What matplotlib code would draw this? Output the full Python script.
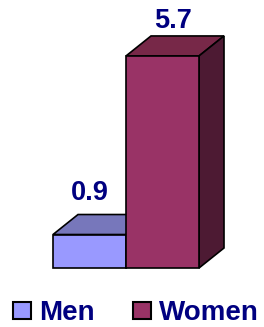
import matplotlib.pyplot as plt
from matplotlib.patches import Polygon, Rectangle

categories = ['Men', 'Women']
values = [0.9, 5.7]
labels = ['0.9', '5.7']

front = ['#9999FF', '#993366']
top = ['#7777BB', '#772848']
side = ['#5C5C99', '#4D1A33']
navy = '#000080'

# label placement tweaks (data units), to match the original layout
label_dx = [0.0, 0.145]
label_gap = [0.39, 0.21]

W, H = 264, 327
fig = plt.figure(figsize=(W / 100, H / 100), dpi=100)
ax = fig.add_axes([0, 0, 1, 1])
# 1 x unit = 73 px, 1 y unit = 37.2 px, baseline at y=268 px
ax.set_xlim(-53 / 73, (W - 53) / 73)
ax.set_ylim(-(H - 268) / 37.2, 268 / 37.2)
ax.axis('off')

dx, dy = 25 / 73, 20 / 37.2
for i, v in enumerate(values):
    x0, x1 = i, i + 1
    ax.add_patch(Polygon([(x0, v), (x0 + dx, v + dy), (x1 + dx, v + dy), (x1, v)],
                         closed=True, fc=top[i], ec='black', lw=1.2, zorder=2 + i))
    ax.add_patch(Polygon([(x1, 0), (x1 + dx, dy), (x1 + dx, v + dy), (x1, v)],
                         closed=True, fc=side[i], ec='black', lw=1.2, zorder=2 + i))
    ax.add_patch(Rectangle((x0, 0), 1, v, fc=front[i], ec='black', lw=1.2, zorder=2 + i))
    ax.text(x0 + 0.5 + label_dx[i], v + dy + label_gap[i], labels[i],
            ha='center', va='baseline', color=navy, fontsize=19.5,
            fontweight='bold', family='Liberation Sans', zorder=5)

# legend
for i, name in enumerate(categories):
    lx = [13, 133][i]
    fig.add_artist(Rectangle((lx / W, 1 - 319 / H), 18 / W, 17 / H, fc=front[i],
                             ec='black', lw=1.5, transform=fig.transFigure))
    fig.text((lx + 26) / W, 1 - 320 / H, name, ha='left', va='baseline', color=navy,
             fontsize=20, fontweight='bold', family='Liberation Sans')

fig.savefig('out.png', dpi=100)
